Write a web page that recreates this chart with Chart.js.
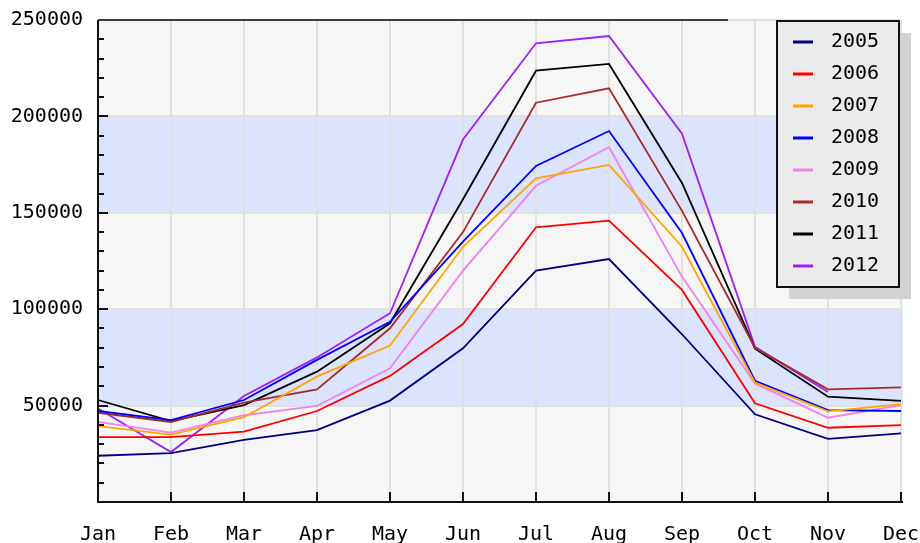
<!DOCTYPE html>
<html>
<head>
<meta charset="utf-8">
<script src="https://cdn.jsdelivr.net/npm/chart.js@4.4.1/dist/chart.umd.min.js"></script>
<style>
  html, body { margin: 0; padding: 0; background: #fff; }
  #wrap { width: 920px; height: 543px; }
</style>
</head>
<body>
<div id="wrap"><canvas id="chart" width="920" height="543"></canvas></div>
<script>
const months = ['Jan','Feb','Mar','Apr','May','Jun','Jul','Aug','Sep','Oct','Nov','Dec'];
const years  = ['2005','2006','2007','2008','2009','2010','2011','2012'];
const yTicks = [50000, 100000, 150000, 200000, 250000];

const v2005 = [24000, 25400, 32200, 37300, 52600,  79700, 120000, 126000,  87000, 45500, 32700, 35600];
const v2006 = [33700, 33700, 36500, 47200, 65400,  92300, 142500, 145900, 110000, 51200, 38500, 39900];
const v2007 = [39400, 35000, 44000, 65000, 81100, 132400, 167900, 174800, 132400, 62000, 47000, 50800];
const v2008 = [47200, 42500, 52900, 73700, 93500, 135000, 174300, 192400, 139500, 62900, 47700, 47200];
const v2009 = [41600, 36000, 45000, 49800, 69300, 120000, 164000, 184000, 116900, 61500, 43700, 50300];
const v2010 = [46300, 41500, 51500, 58400, 90100, 140000, 207100, 214600, 151000, 80000, 58400, 59500];
const v2011 = [52900, 42000, 50300, 67600, 92700, 157000, 223700, 227200, 165500, 79500, 54600, 52400];
const v2012 = [48500, 25900, 55000, 75000, 97900, 188000, 237900, 241700, 191000, 80500, 57000, null];

const series = [v2005, v2006, v2007, v2008, v2009, v2010, v2011, v2012];
const colors = ['#000080','#ff0000','#ffa500','#0000ff','#ee82ee','#a52a2a','#000000','#a020f0'];

const FONT = { family: "'DejaVu Sans Mono', monospace", size: 20 };

const noPad = s => { s.paddingTop = 0; s.paddingBottom = 0; s.paddingLeft = 0; s.paddingRight = 0; };

/* alternating bands behind the plot */
const bands = {
  id: 'bands',
  beforeDraw(chart) {
    const { ctx, chartArea: a, scales: { y } } = chart;
    ctx.save();
    for (let v = 0; v < 250000; v += 50000) {
      const y1 = y.getPixelForValue(v + 50000), y0 = y.getPixelForValue(v);
      ctx.fillStyle = (v / 50000) % 2 ? '#dce3fc' : '#f6f6f6';
      ctx.fillRect(a.left, y1, a.right - a.left + 2, y0 - y1);
    }
    ctx.restore();
  }
};

/* axis lines, inside tick marks, top rule, legend */
const frame = {
  id: 'frame',
  afterDraw(chart) {
    const { ctx, chartArea: a, scales: { x, y } } = chart;
    ctx.save();
    ctx.strokeStyle = '#111';
    ctx.lineWidth = 2;
    const line = (x0, y0, x1, y1) => { ctx.beginPath(); ctx.moveTo(x0, y0); ctx.lineTo(x1, y1); ctx.stroke(); };

    line(a.left, a.top, a.left, a.bottom + 1);
    line(a.left - 1, a.bottom, a.right + 2, a.bottom);
    for (let v = 10000; v < 250000; v += 10000) {
      const py = Math.round(y.getPixelForValue(v));
      line(a.left, py, a.left + (v % 50000 ? 6 : 10), py);
    }
    months.forEach((m, i) => {
      const px = Math.round(x.getPixelForValue(i));
      line(px, a.bottom, px, a.bottom - 10);
    });

    ctx.strokeStyle = '#3c3c28';
    line(a.left, a.top, 728, a.top);

    // legend
    const lx = 777, ly = 21, lw = 122, lh = 266;
    ctx.fillStyle = '#d3d3d3';
    ctx.fillRect(lx + 12, ly + 12, lw, lh);
    ctx.fillStyle = '#ebebeb';
    ctx.fillRect(lx, ly, lw, lh);
    ctx.strokeStyle = '#111';
    ctx.strokeRect(lx, ly, lw, lh);
    ctx.font = `${FONT.size}px ${FONT.family}`;
    ctx.textBaseline = 'middle';
    ctx.textAlign = 'left';
    chart.data.datasets.forEach((ds, i) => {
      const ry = 42 + i * 32;
      ctx.strokeStyle = ds.borderColor;
      ctx.lineWidth = 3;
      line(793, ry, 813, ry);
      ctx.fillStyle = '#000';
      ctx.fillText(ds.label, 831, ry);
    });
    ctx.restore();
  }
};

new Chart(document.getElementById('chart'), {
  type: 'line',
  data: {
    labels: months,
    datasets: years.map((yr, i) => ({
      label: yr,
      data: series[i],
      borderColor: colors[i],
      backgroundColor: colors[i],
      borderWidth: 1.8,
      pointRadius: 0,
      tension: 0,
      fill: false
    }))
  },
  options: {
    responsive: false,
    animation: false,
    layout: { padding: { top: 20, right: 19, left: 0, bottom: 0 } },
    plugins: { legend: { display: false }, tooltip: { enabled: false } },
    scales: {
      x: {
        offset: false,
        grid: { color: '#e0e0e0', lineWidth: 2, drawTicks: false },
        border: { display: false },
        ticks: { color: '#000', font: FONT, padding: 21, maxRotation: 0 },
        afterFit: s => { s.height = 41; noPad(s); }
      },
      y: {
        min: 0, max: 250000,
        afterBuildTicks: s => { s.ticks = yTicks.map(v => ({ value: v })); },
        grid: { color: '#e0e0e0', lineWidth: 2, drawTicks: false },
        border: { display: false },
        ticks: { color: '#000', font: FONT, padding: 15, callback: v => String(v) },
        afterFit: s => { s.width = 98; noPad(s); }
      }
    }
  },
  plugins: [bands, frame]
});
</script>
</body>
</html>
